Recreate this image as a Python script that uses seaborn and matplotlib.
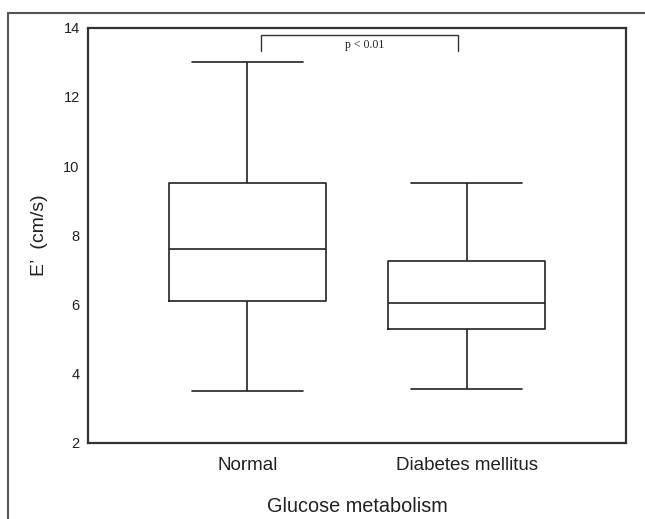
import pandas as pd
import matplotlib.pyplot as plt
import seaborn as sns
from matplotlib.lines import Line2D

# five-number summaries (min, Q1, median, Q3, max)
groups = ['Normal', 'Diabetes mellitus']
normal_values = [3.5, 6.1, 7.6, 9.5, 13.0]
dm_values = [3.55, 5.3, 6.05, 7.25, 9.5]

y_ticks = [2, 4, 6, 8, 10, 12, 14]
p_label = 'p < 0.01'
bracket_x = [0.062, 0.062, 0.963, 0.963]
bracket_y = [13.33, 13.79, 13.79, 13.33]

df = pd.DataFrame({
    'group': [groups[0]] * len(normal_values) + [groups[1]] * len(dm_values),
    'value': normal_values + dm_values,
})

sns.set_theme(style="white")
plt.rcParams['font.family'] = ['Liberation Sans', 'DejaVu Sans']

fig = plt.figure(figsize=(6.45, 5.19), dpi=100)
ax = fig.add_axes([0.1364, 0.147, 0.8341, 0.7996])

line_kws = dict(color='#222222', linewidth=1.2)
sns.boxplot(data=df, x='group', y='value', order=groups, ax=ax,
            width=0.72, whis=(0, 100), fill=False, color='#222222',
            linewidth=1.2, capwidths=0.51,
            medianprops=line_kws, whiskerprops=line_kws,
            capprops=line_kws, boxprops=line_kws)

ax.set_xlim(-0.728, 1.728)
ax.set_ylim(2, 14)
ax.set_yticks(y_ticks)

# significance bracket
ax.plot(bracket_x, bracket_y, color='#333333', linewidth=1.0)
ax.text(0.535, 13.5, p_label, ha='center', va='center', fontsize=8.5,
        family=['Liberation Serif', 'DejaVu Serif'], color='#222222')

for s in ax.spines.values():
    s.set_visible(True)
    s.set_color('#333333')
    s.set_linewidth(1.6)

ax.tick_params(axis='both', direction='out', length=4, width=1,
               color='#333333', labelcolor='#222222')
ax.tick_params(axis='y', labelsize=10.5, pad=2)
ax.tick_params(axis='x', labelsize=13.5, pad=6)
ax.set_xlabel('Glucose metabolism', fontsize=14.3, color='#222222', labelpad=17)
ax.set_ylabel('E\u2019  (cm/s)', fontsize=14, color='#222222', labelpad=11)

# outer frame (top and left edges)
fig.add_artist(Line2D([8 / 645, 1.0], [1 - 13 / 519, 1 - 13 / 519],
                      transform=fig.transFigure, color='#555555', linewidth=1.5))
fig.add_artist(Line2D([8 / 645, 8 / 645], [0.0, 1 - 13 / 519],
                      transform=fig.transFigure, color='#555555', linewidth=1.5))

fig.savefig('out.png', dpi=100)
